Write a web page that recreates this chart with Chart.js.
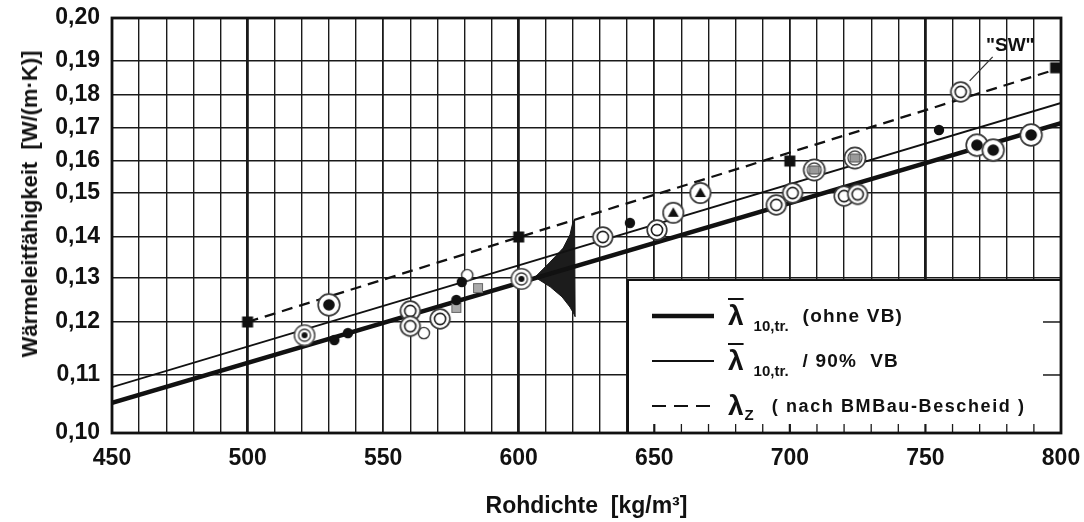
<!DOCTYPE html>
<html lang="de">
<head>
<meta charset="utf-8">
<title>Wärmeleitfähigkeit über Rohdichte</title>
<script src="https://cdn.jsdelivr.net/npm/chart.js@4.4.1/dist/chart.umd.min.js"></script>
<style>
    html, body { margin: 0; padding: 0; background: #fff; }
    #wrap { position: relative; width: 1084px; height: 522px; font-family: "Liberation Sans", Arial, sans-serif; color: #111; }
    #wrap canvas { position: absolute; left: 0; top: 0; }
    .key { position: absolute; left: 652px; height: 32px; display: flex; align-items: center; font-weight: bold; white-space: pre; }
    .key svg { flex: none; }
    .lam { font-size: 28px; line-height: 32px; margin-left: 14px; }
    .bar { text-decoration: overline; text-decoration-thickness: 2px; }
    .sub { font-size: 15px; position: relative; top: 9px; margin-left: 10px; }
    .txt { font-size: 19px; letter-spacing: 1.2px; margin-left: 14px; }
    #sw { position: absolute; left: 986px; top: 34px; font-size: 19px; font-weight: bold; line-height: 22px; }
    #ytitle { position: absolute; left: 30px; top: 204px; font-size: 22px; font-weight: bold; white-space: pre;
              line-height: 24px; transform: translate(-50%, -50%) rotate(-90deg); }
</style>
</head>
<body>
<div id="wrap">
    <canvas id="chart" width="1084" height="522"></canvas>

    <div id="ytitle">Wärmeleitfähigkeit  [W/(m·K)]</div>

    <div class="key" style="top:300px">
        <svg width="62" height="8"><line x1="0" y1="4" x2="62" y2="4" stroke="#111" stroke-width="4.5"/></svg>
        <span class="lam bar">λ</span><span class="sub">10,tr.</span><span class="txt">(ohne VB)</span>
    </div>
    <div class="key" style="top:345px">
        <svg width="62" height="8"><line x1="0" y1="4" x2="62" y2="4" stroke="#111" stroke-width="1.8"/></svg>
        <span class="lam bar">λ</span><span class="sub">10,tr.</span><span class="txt">/ 90%  VB</span>
    </div>
    <div class="key" style="top:390px">
        <svg width="62" height="8"><line x1="0" y1="4" x2="62" y2="4" stroke="#111" stroke-width="2.2" stroke-dasharray="14 8"/></svg>
        <span class="lam">λ</span><span class="sub" style="top:8px;margin-left:1px">Z</span><span class="txt" style="margin-left:18px;font-size:18px;letter-spacing:1.6px">( nach BMBau-Bescheid )</span>
    </div>

    <div id="sw">"SW"</div>
</div>

<script>
// ===== AXES =====
const xMin = 450;
const xMax = 800;
const yTicks = [0.10, 0.11, 0.12, 0.13, 0.14, 0.15, 0.16, 0.17, 0.18, 0.19, 0.20];
// the printed paper is not evenly ruled: share of the axis height at each y tick
const yRuling = [0, 0.1398, 0.2675, 0.3735, 0.4723, 0.5783, 0.6554, 0.7349, 0.8145, 0.8964, 1];

// ===== LINES =====
const lineX = [450, 800];
const lambdaMean = [0.1052, 0.1715];   // λ 10,tr. ohne VB
const lambdaUpper = [0.1079, 0.1776];  // λ 10,tr. / 90 % VB
const lambdaZX = [500, 800];
const lambdaZ = [0.120, 0.188];        // λZ nach BMBau-Bescheid

// ===== MEASURED POINTS (by symbol) =====
const dotX = [532, 537, 577, 579, 641, 755];
const dotY = [0.1166, 0.1179, 0.1250, 0.1291, 0.1432, 0.1694];

const ringX = [560, 560, 571, 631, 651, 695, 701, 720, 725];
const ringY = [0.1225, 0.1192, 0.1207, 0.1400, 0.1416, 0.1473, 0.1500, 0.1493, 0.1497];

const swX = [763];
const swY = [0.1809];

const circleX = [565, 581];
const circleY = [0.1179, 0.1307];

const bullX = [530, 769, 775, 789];
const bullY = [0.1239, 0.1648, 0.1633, 0.1679];

const ringDotX = [521, 601];
const ringDotY = [0.1175, 0.1298];

const triX = [657, 667];
const triY = [0.1455, 0.1500];

const sqRingX = [709, 724];
const sqRingY = [0.1572, 0.1609];

const graySqX = [577, 585];
const graySqY = [0.1232, 0.1277];

const blackSqX = [500, 600, 700, 798];
const blackSqY = [0.120, 0.140, 0.160, 0.188];

// distribution drawn at 600 kg/m³ (outline)
const bellX = [620.6, 620.0, 618.9, 616.4, 611.6, 606.0, 611.6, 616.0, 618.9, 620.4, 620.8, 620.6];
const bellY = [0.1440, 0.1434, 0.1405, 0.1373, 0.1339, 0.1302, 0.1280, 0.1257, 0.1234, 0.1218, 0.1212, 0.1440];

const pts = (xs, ys) => xs.map((x, i) => ({ x: x, y: ys[i] }));

// ===== UNEVEN Y SCALE =====
function toRuled(v) {
    if (v <= yTicks[0]) return yRuling[0];
    for (let i = 1; i < yTicks.length; i++) {
        if (v <= yTicks[i]) {
            const t = (v - yTicks[i - 1]) / (yTicks[i] - yTicks[i - 1]);
            return yRuling[i - 1] + t * (yRuling[i] - yRuling[i - 1]);
        }
    }
    return 1;
}

function fromRuled(d) {
    for (let i = 1; i < yRuling.length; i++) {
        if (d <= yRuling[i]) {
            const t = (d - yRuling[i - 1]) / (yRuling[i] - yRuling[i - 1]);
            return yTicks[i - 1] + t * (yTicks[i] - yTicks[i - 1]);
        }
    }
    return yTicks[yTicks.length - 1];
}

class RuledScale extends Chart.LinearScale {
    getPixelForValue(value) {
        if (value === null || value === undefined || isNaN(value)) return NaN;
        return this.getPixelForDecimal(toRuled(value));
    }
    getValueForPixel(pixel) {
        return fromRuled(this.getDecimalForPixel(pixel));
    }
}
RuledScale.id = 'ruled';
RuledScale.defaults = Chart.LinearScale.defaults;
Chart.register(RuledScale);

// ===== MARKER SPRITES =====
function sprite(size, draw) {
    const c = document.createElement('canvas');
    c.width = size;
    c.height = size;
    const g = c.getContext('2d');
    g.translate(size / 2, size / 2);
    draw(g);
    return c;
}

function ring(g, r, w, col) {
    g.beginPath();
    g.arc(0, 0, r, 0, Math.PI * 2);
    g.fillStyle = '#fff';
    g.fill();
    g.lineWidth = w;
    g.strokeStyle = col;
    g.stroke();
}

function dot(g, r) {
    g.beginPath();
    g.arc(0, 0, r, 0, Math.PI * 2);
    g.fillStyle = '#111';
    g.fill();
}

const markers = {
    dot: sprite(14, g => dot(g, 5.2)),
    ring: sprite(26, g => { ring(g, 9.8, 1.7, '#3a3a3a'); ring(g, 5.6, 1.6, '#1e1e1e'); }),
    circle: sprite(16, g => ring(g, 5.6, 1.4, '#333')),
    bull: sprite(28, g => { ring(g, 10.8, 1.7, '#3a3a3a'); dot(g, 5.8); }),
    ringDot: sprite(28, g => { ring(g, 10.2, 1.5, '#4a4a4a'); ring(g, 6, 1.3, '#3a3a3a'); dot(g, 3); }),
    tri: sprite(28, g => {
        ring(g, 10.2, 1.7, '#3a3a3a');
        g.beginPath();
        g.moveTo(0, -5.5); g.lineTo(5.5, 4); g.lineTo(-5.5, 4); g.closePath();
        g.fillStyle = '#111';
        g.fill();
    }),
    sqRing: sprite(28, g => {
        ring(g, 10.6, 1.7, '#3a3a3a');
        ring(g, 7, 1.3, '#4a4a4a');
        g.fillStyle = '#9a9a9a';
        g.fillRect(-5, -4, 10, 8);
        g.lineWidth = 1;
        g.strokeStyle = '#555';
        g.strokeRect(-5, -4, 10, 8);
    }),
    graySq: sprite(14, g => {
        g.fillStyle = '#aaa';
        g.fillRect(-4.5, -4.5, 9, 9);
        g.lineWidth = 1;
        g.strokeStyle = '#666';
        g.strokeRect(-4.5, -4.5, 9, 9);
    }),
    blackSq: sprite(14, g => { g.fillStyle = '#111'; g.fillRect(-5.5, -5.5, 11, 11); })
};

function markerSet(label, xs, ys, style) {
    return {
        type: 'scatter',
        label: label,
        data: pts(xs, ys),
        pointStyle: style,
        pointRadius: 1,
        clip: false
    };
}

// ===== PLUGIN: key panel, frame, "SW" leader =====
const paperFrame = {
    id: 'paperFrame',
    beforeDatasetsDraw(chart) {
        const { ctx, chartArea: a, scales: { x, y } } = chart;
        const L = a.right - 433;
        const T = a.bottom - 153;
        ctx.save();

        // white key panel over the grid
        ctx.fillStyle = '#fff';
        ctx.fillRect(L, T, a.right - L, a.bottom - T);

        // inward tick stubs left inside the panel
        ctx.strokeStyle = '#1a1a1a';
        x.ticks.forEach(t => {
            const px = x.getPixelForValue(t.value);
            if (px > L + 3 && px < a.right - 3) {
                ctx.lineWidth = t.value % 50 ? 1.3 : 2.2;
                ctx.beginPath();
                ctx.moveTo(px, a.bottom);
                ctx.lineTo(px, a.bottom - 9);
                ctx.stroke();
            }
        });
        ctx.lineWidth = 1.5;
        y.ticks.forEach(t => {
            const py = y.getPixelForValue(t.value);
            if (py > T + 3 && py < a.bottom - 3) {
                ctx.beginPath();
                ctx.moveTo(a.right - 18, py);
                ctx.lineTo(a.right, py);
                ctx.stroke();
            }
        });

        // panel edges
        ctx.strokeStyle = '#111';
        ctx.lineWidth = 2;
        ctx.beginPath();
        ctx.moveTo(L, a.bottom);
        ctx.lineTo(L, T);
        ctx.lineTo(a.right, T);
        ctx.stroke();

        // outer frame
        ctx.lineWidth = 2.8;
        ctx.strokeRect(a.left, a.top, a.right - a.left, a.bottom - a.top);
        ctx.restore();
    },
    afterDatasetsDraw(chart) {
        const p = chart.getDatasetMeta(0).data[0];
        if (!p) return;
        const ctx = chart.ctx;
        ctx.save();
        ctx.strokeStyle = '#333';
        ctx.lineWidth = 1.3;
        ctx.beginPath();
        ctx.moveTo(p.x + 9, p.y - 11);
        ctx.lineTo(p.x + 32, p.y - 35);
        ctx.stroke();
        ctx.restore();
    }
};

// ===== CHART =====
Chart.defaults.font.family = '"Liberation Sans", Arial, sans-serif';
Chart.defaults.color = '#111';

const gridColor = '#1a1a1a';

new Chart(document.getElementById('chart'), {
    type: 'scatter',
    data: {
        datasets: [
            markerSet('SW', swX, swY, markers.ring),
            markerSet('Punkte', dotX, dotY, markers.dot),
            markerSet('Ringe', ringX, ringY, markers.ring),
            markerSet('Kreise', circleX, circleY, markers.circle),
            markerSet('Ring mit Punkt', bullX, bullY, markers.bull),
            markerSet('Ring mit kleinem Punkt', ringDotX, ringDotY, markers.ringDot),
            markerSet('Dreiecke', triX, triY, markers.tri),
            markerSet('Quadrate im Ring', sqRingX, sqRingY, markers.sqRing),
            markerSet('graue Quadrate', graySqX, graySqY, markers.graySq),
            markerSet('λZ Stützpunkte', blackSqX, blackSqY, markers.blackSq),
            {
                type: 'line',
                label: 'λ 10,tr. (ohne VB)',
                data: pts(lineX, lambdaMean),
                borderColor: '#111',
                borderWidth: 4.5,
                pointRadius: 0,
                fill: false
            },
            {
                type: 'line',
                label: 'λ 10,tr. / 90% VB',
                data: pts(lineX, lambdaUpper),
                borderColor: '#111',
                borderWidth: 1.9,
                pointRadius: 0,
                fill: false
            },
            {
                type: 'line',
                label: 'λZ (nach BMBau-Bescheid)',
                data: pts(lambdaZX, lambdaZ),
                borderColor: '#111',
                borderWidth: 2.3,
                borderDash: [11, 7],
                pointRadius: 0,
                fill: false
            },
            {
                type: 'line',
                label: 'Verteilung',
                data: pts(bellX, bellY),
                borderColor: '#151515',
                borderWidth: 1,
                backgroundColor: '#1c1c1c',
                pointRadius: 0,
                fill: 'shape'
            }
        ]
    },
    options: {
        responsive: false,
        animation: false,
        events: [],
        layout: { autoPadding: false, padding: { top: 18, right: 23, left: 0, bottom: 0 } },
        plugins: {
            legend: { display: false },
            tooltip: { enabled: false }
        },
        scales: {
            x: {
                type: 'linear',
                min: xMin,
                max: xMax,
                afterFit: s => { s.height = 89; s.paddingLeft = 0; s.paddingRight = 0; },
                border: { display: false },
                grid: {
                    drawTicks: false,
                    color: gridColor,
                    lineWidth: c => {
                        const v = c.tick.value;
                        if (v === 500 || v === 600 || v === 750) return 2.8;
                        return v % 50 === 0 ? 1.8 : 1.4;
                    }
                },
                ticks: {
                    stepSize: 10,
                    autoSkip: false,
                    maxRotation: 0,
                    padding: 12,
                    font: { size: 23, weight: 'bold' },
                    callback: v => (v % 50 === 0 ? String(v) : '')
                },
                title: {
                    display: true,
                    text: 'Rohdichte  [kg/m³]',
                    font: { size: 23, weight: 'bold' },
                    padding: { top: 0, bottom: 2 }
                }
            },
            y: {
                type: 'ruled',
                min: 0.10,
                max: 0.20,
                afterFit: s => { s.width = 112; s.paddingTop = 0; s.paddingBottom = 0; },
                afterBuildTicks: s => { s.ticks = yTicks.map(v => ({ value: v })); },
                border: { display: false },
                grid: { drawTicks: false, color: gridColor, lineWidth: 1.6 },
                ticks: {
                    padding: 12,
                    font: { size: 23, weight: 'bold' },
                    callback: v => v.toFixed(2).replace('.', ',')
                }
            }
        }
    },
    plugins: [paperFrame]
});
</script>
</body>
</html>
